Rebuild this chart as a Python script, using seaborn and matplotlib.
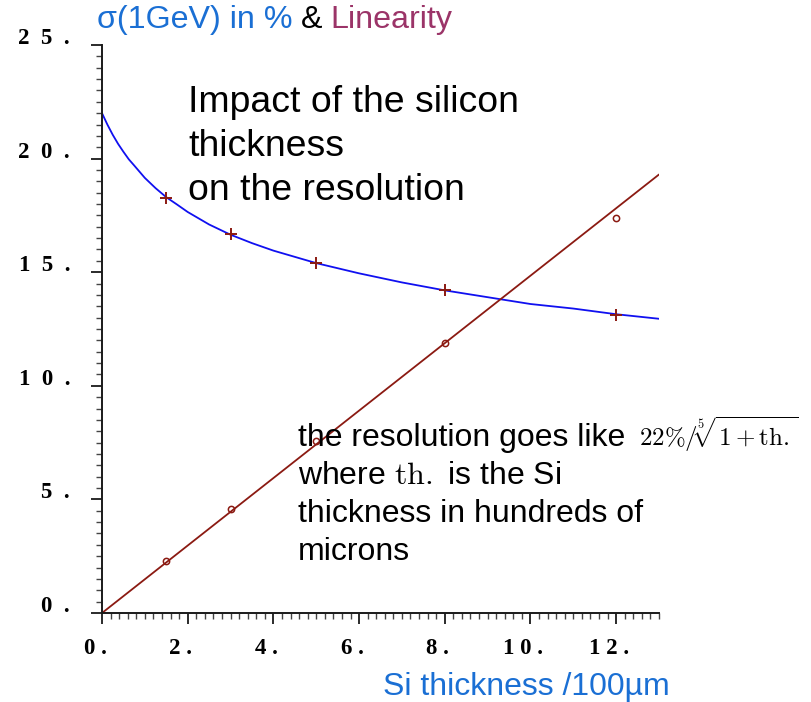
import matplotlib
matplotlib.use("Agg")
import matplotlib.pyplot as plt
import matplotlib.transforms as mtransforms
from matplotlib.ticker import MultipleLocator
import seaborn as sns

# ---------------- data ----------------
thick_pts = [1.5, 3, 5, 8, 12]
sigma_pts = [18.25, 16.7, 15.42, 14.23, 13.13]
lin_pts = [2.30, 4.58, 7.58, 11.89, 17.39]

curve_x = [0, 0.125, 0.25, 0.375, 0.5, 0.625, 0.75, 1, 1.25, 1.5, 1.75, 2, 2.5,
           3, 3.5, 4, 5, 6, 7, 8, 9, 10, 11, 12, 13]
curve_y = [22.0, 21.5, 21.05, 20.65, 20.3, 19.97, 19.7, 19.15, 18.7, 18.3, 17.98,
           17.65, 17.1, 16.65, 16.28, 15.95, 15.4, 14.95, 14.55, 14.2, 13.9, 13.6,
           13.4, 13.15, 12.95]

line_x = [0, 13]
line_y = [0, 19.3]

xticks = [0, 2, 4, 6, 8, 10, 12]
xtick_labels = ["0 .", "2 .", "4 .", "6 .", "8 .", "1 0 .", "1 2 ."]
yticks = [0, 5, 10, 15, 20, 25]
ytick_labels = ["0  .", "5  .", "1  0  .", "1  5  .", "2  0  .", "2  5  ."]

title_parts = ["σ(1GeV) in %", "&", "Linearity"]
xlabel = "Si thickness /100µm"
block1 = ["Impact of the silicon", "thickness", "on the resolution"]
block2 = ["the resolution goes like", r"where $\mathrm{th.}$ is the Si",
          "thickness in hundreds of", "microns"]
formula = r"$22\%/\sqrt[5]{1+\mathrm{th.}}$"

# ---------------- style ----------------
BLUE_LINE = "#1010f0"
RED = "#8b1a12"
TITLE_BLUE = "#1a6fd4"
TITLE_PURPLE = "#9b3468"
AXCOL = "#1a1a1a"

sns.set_theme(style="ticks")
plt.rcParams["font.family"] = ["Liberation Sans", "DejaVu Sans"]
plt.rcParams["mathtext.fontset"] = "cm"

W, H = 812, 702
fig = plt.figure(figsize=(W / 100, H / 100), dpi=100)
fig.patch.set_facecolor("white")
ax = fig.add_axes([102 / W, 1 - 613 / H, (659 - 102) / W, (613 - 45) / H])
ax.set_facecolor("white")

sns.lineplot(x=curve_x, y=curve_y, color=BLUE_LINE, linewidth=1.3, ax=ax)
sns.lineplot(x=line_x, y=line_y, color=RED, linewidth=1.3, ax=ax)
sns.lineplot(x=thick_pts, y=sigma_pts, color=RED, linestyle="none", marker="+",
             markersize=9, markeredgewidth=1.4, markeredgecolor=RED, ax=ax)
sns.lineplot(x=thick_pts, y=lin_pts, color=RED, linestyle="none", marker="o",
             markersize=4.5, markerfacecolor="none", markeredgecolor=RED,
             markeredgewidth=1.1, ax=ax)

ax.set_xlim(0, 13)
ax.set_ylim(0, 25)
ax.set_xlabel("")
ax.set_ylabel("")
for s in ["top", "right"]:
    ax.spines[s].set_visible(False)
for s in ["left", "bottom"]:
    ax.spines[s].set_color(AXCOL)
    ax.spines[s].set_linewidth(1.4)

tick_font = dict(family=["Liberation Serif", "DejaVu Serif"], weight="bold", size=16.5)
ax.set_xticks(xticks)
ax.set_xticklabels(xtick_labels, fontdict=tick_font, color="black")
ax.set_yticks(yticks)
ax.set_yticklabels(ytick_labels, fontdict=tick_font, color="black")
ax.xaxis.set_minor_locator(MultipleLocator(0.2))
ax.yaxis.set_minor_locator(MultipleLocator(0.5))
ax.tick_params(which="major", direction="out", length=8, width=1.3, color=AXCOL)
ax.tick_params(which="minor", direction="out", length=4.3, width=1.0, color="#444444")
ax.tick_params(axis="x", which="major", pad=10)
ax.tick_params(axis="y", which="major", pad=15)

xoff = mtransforms.ScaledTranslation(-7 / 100, 0, fig.dpi_scale_trans)
for lab in ax.get_xticklabels():
    lab.set_transform(lab.get_transform() + xoff)
yoff = mtransforms.ScaledTranslation(0, 1 / 100, fig.dpi_scale_trans)
for lab in ax.get_yticklabels():
    lab.set_verticalalignment("baseline")
    lab.set_transform(lab.get_transform() + yoff)


def fx(px):
    return px / W


def fy(py):
    return 1 - py / H


# title in three colours
fig.canvas.draw()
renderer = fig.canvas.get_renderer()
x0 = 97
colors = [TITLE_BLUE, "black", TITLE_PURPLE]
for part, col in zip(title_parts, colors):
    t = fig.text(fx(x0), fy(28), part, color=col, fontsize=23.2, va="baseline", ha="left")
    bb = t.get_window_extent(renderer)
    x0 = bb.x1 + 8

# x label
fig.text(fx(383), fy(695), xlabel, color=TITLE_BLUE, fontsize=23, va="baseline", ha="left")

# annotation block 1
for i, line in enumerate(block1):
    fig.text(fx(188), fy(112 + 44 * i), line, color="black", fontsize=26.9, va="baseline", ha="left")

# annotation block 2
for i, line in enumerate(block2):
    fig.text(fx(298), fy(446 + 38 * i), line, color="black", fontsize=23, va="baseline", ha="left")
fig.text(fx(639), fy(446), formula, color="black", fontsize=18, va="baseline", ha="left")

fig.savefig("out.png", dpi=100, facecolor="white")
